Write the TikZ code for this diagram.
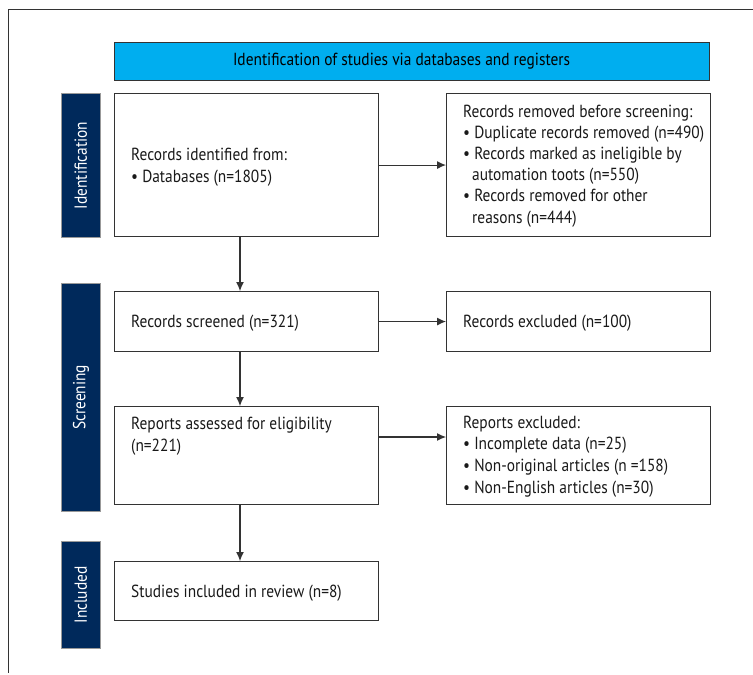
\documentclass[tikz,border=0pt]{standalone}
\usepackage{fontspec}
\setmainfont{PT Sans}[FakeStretch=0.88]
\usetikzlibrary{arrows.meta}
\definecolor{hdrblue}{HTML}{00AEEF}
\definecolor{navy}{HTML}{00295B}
\definecolor{edgec}{HTML}{333333}
\begin{document}
\begin{tikzpicture}[x=1pt,y=-1pt,
  fbox/.style={draw=edgec, line width=1.1pt, anchor=north west, inner sep=0pt, fill=white},
  hdr/.style={draw=edgec, line width=1.1pt, anchor=north west, inner sep=0pt, fill=hdrblue},
  side/.style={draw=gray!80, line width=0.8pt, anchor=north west, inner sep=0pt, fill=navy},
  sidetxt/.style={text=white, rotate=90, font=\fontsize{17.5}{21}\selectfont, inner sep=0pt},
  ln/.style={anchor=base west, inner sep=0pt, font=\fontsize{17.5}{21}\selectfont, text=black!90},
  arr/.style={draw=edgec, line width=1.1pt, -{Latex[length=9pt,width=8pt]}},
  frame/.style={draw=edgec, line width=1pt}
]
\useasboundingbox (0,0) rectangle (753,675);
% frame
\coordinate (fl) at (8.3,9.5);
\coordinate (fr) at (753,9.5);
\coordinate (fb) at (8.3,673);
\draw[frame] (fr) -- (fl) -- (fb);

% header
\node[hdr, minimum width=595pt, minimum height=38pt] (hdr) at (114,42) {};
\node[font=\fontsize{17.5}{21}\selectfont, inner sep=0pt, xshift=-10.5pt] (hdrt) at (hdr.center) {Identification of studies via databases and registers};

% side labels
\node[side, minimum width=39pt, minimum height=144pt] (sid) at (61,93) {};
\node[sidetxt] (sidt) at (sid.center) {Identification};
\node[side, minimum width=39pt, minimum height=228pt] (ssc) at (61,283) {};
\node[sidetxt] (ssct) at (ssc.center) {Screening};
\node[side, minimum width=39pt, minimum height=107pt] (sin) at (61,541) {};
\node[sidetxt] (sint) at (sin.center) {Included};

% boxes
\node[fbox, minimum width=264pt, minimum height=143pt] (b1) at (114,93) {};
\node[fbox, minimum width=264pt, minimum height=143pt] (rem) at (446,93) {};
\node[fbox, minimum width=264pt, minimum height=60pt] (scr) at (114,291) {};
\node[fbox, minimum width=264pt, minimum height=60pt] (exc) at (446,291) {};
\node[fbox, minimum width=264pt, minimum height=98pt] (ass) at (114,406) {};
\node[fbox, minimum width=264pt, minimum height=98pt] (rex) at (446,406) {};
\node[fbox, minimum width=264pt, minimum height=59pt] (inc) at (114,561) {};

% texts
\node[ln] (b1a) at (131,160) {Records identified from:};
\node[ln] (b1b) at (131,182) {• Databases (n=1805)};

\node[ln] (rema) at (463,117) {Records removed before screening:};
\node[ln] (remb) at (463,138.2) {• Duplicate records removed (n=490)};
\node[ln] (remc) at (463,159.4) {• Records marked as ineligible by};
\node[ln] (remd) at (472,180.6) {automation toots (n=550)};
\node[ln] (reme) at (463,201.8) {• Records removed for other};
\node[ln] (remf) at (472,223) {reasons (n=444)};

\node[ln] (scra) at (131,327.5) {Records screened (n=321)};
\node[ln] (exca) at (463,327.5) {Records excluded (n=100)};

\node[ln] (assa) at (131,429) {Reports assessed for eligibility};
\node[ln] (assb) at (131,451) {(n=221)};

\node[ln] (rexa) at (463,428) {Reports excluded:};
\node[ln] (rexb) at (463,449.7) {• Incomplete data (n=25)};
\node[ln] (rexc) at (463,471.4) {• Non-original articles (n =158)};
\node[ln] (rexd) at (463,493) {• Non-English articles (n=30)};

\node[ln] (inca) at (131,597) {Studies included in review (n=8)};

% arrows
\coordinate (ax) at (240,0);
\coordinate (ay) at (0,437);
\draw[arr] (b1.south -| ax) -- (scr.north -| ax);
\draw[arr] (scr.south -| ax) -- (ass.north -| ax);
\draw[arr] (ass.south -| ax) -- (inc.north -| ax);
\draw[arr] (b1.east) -- (rem.west);
\draw[arr] (scr.east) -- (exc.west);
\draw[arr] (ass.east |- ay) -- (rex.west |- ay);
\end{tikzpicture}
\end{document}
